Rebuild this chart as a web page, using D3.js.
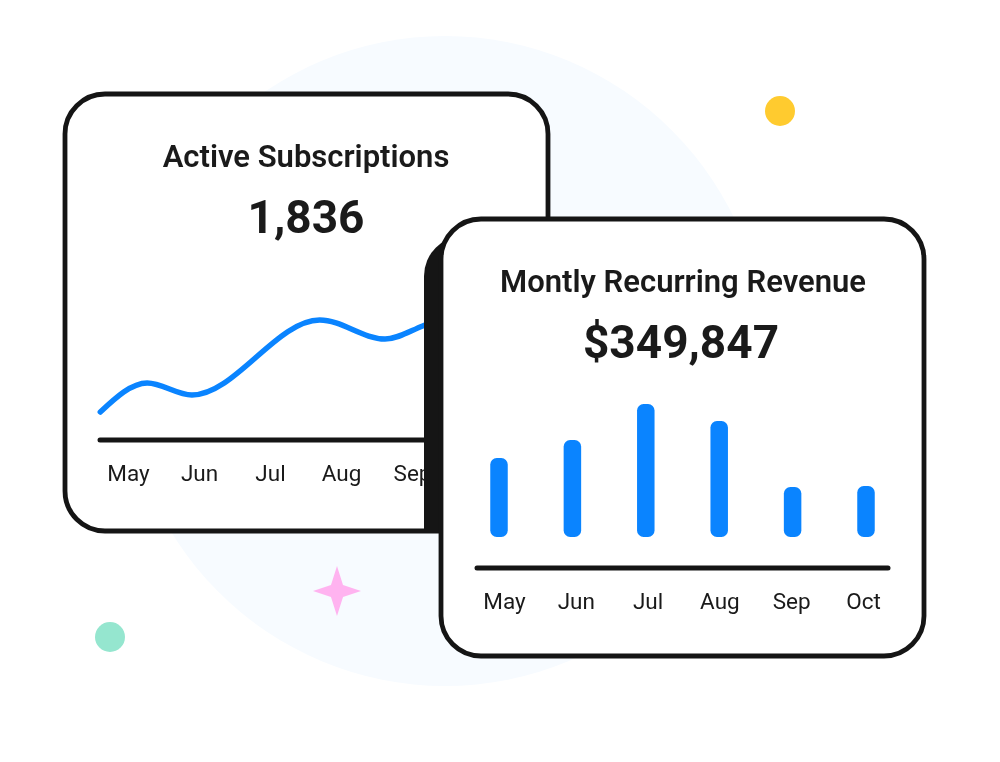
<!DOCTYPE html>
<html>
<head>
<meta charset="utf-8">
<script src="https://cdn.jsdelivr.net/npm/d3@7"></script>
<style>
  html, body { margin: 0; padding: 0; background: #fff; }
  svg { display: block; filter: blur(0.5px); }
  text { font-family: Roboto, sans-serif; fill: #1a1a1a; }
</style>
</head>
<body>
<script>
var width = 1000;
var height = 762;

var months = ['May', 'Jun', 'Jul', 'Aug', 'Sep', 'Oct'];

// line chart: position in months from May, height above the axis
var lineMonths = [-0.39, 0.27, 0.90, 2.70, 3.62, 4.15, 4.80];
var lineValues = [28, 57, 45, 120, 101, 114, 135];

// bar chart, height of each bar
var barValues = [79, 97, 133, 116, 50, 51];

var ink = '#151515';
var blue = '#0a84ff';

var svg = d3.select('body').append('svg')
  .attr('width', width)
  .attr('height', height);

// background blob
svg.append('ellipse')
  .attr('cx', 445).attr('cy', 361)
  .attr('rx', 322).attr('ry', 325)
  .attr('fill', '#f7fbff');

// small decorations
svg.append('circle').attr('cx', 780).attr('cy', 111).attr('r', 15).attr('fill', '#ffcb2f');
svg.append('circle').attr('cx', 110).attr('cy', 637).attr('r', 15).attr('fill', '#95e6cf');

var starRadii = [25, 8.5, 24, 8.5, 25, 8.5, 24, 8.5];
var star = d3.lineRadial()
  .angle(function (d, i) { return i * Math.PI / 4; })
  .radius(function (d) { return d; })
  .curve(d3.curveLinearClosed);
svg.append('path')
  .attr('transform', 'translate(337,591)')
  .attr('d', star(starRadii))
  .attr('fill', '#ffb3f0');

function card(x, y, w, h) {
  return svg.append('rect')
    .attr('x', x).attr('y', y)
    .attr('width', w).attr('height', h)
    .attr('rx', 40)
    .attr('fill', '#fff')
    .attr('stroke', ink)
    .attr('stroke-width', 4.8);
}

function monthAxis(g, scale, y, x0, x1) {
  g.append('line')
    .attr('x1', x0).attr('x2', x1)
    .attr('y1', y).attr('y2', y)
    .attr('stroke', ink)
    .attr('stroke-width', 5)
    .attr('stroke-linecap', 'round');
  var axis = g.append('g')
    .attr('transform', 'translate(0,' + y + ')')
    .call(d3.axisBottom(scale).tickSize(0).tickPadding(25));
  axis.select('.domain').remove();
  axis.selectAll('text')
    .attr('font-size', 22.5)
    .attr('font-weight', 450)
    .style('font-family', 'Roboto, sans-serif')
    .style('fill', '#1a1a1a');
}

function title(x, y, label) {
  svg.append('text').attr('x', x).attr('y', y)
    .attr('text-anchor', 'middle')
    .attr('font-size', 31).attr('font-weight', 600)
    .text(label);
}

function bigNumber(x, y, label) {
  svg.append('text').attr('x', x).attr('y', y)
    .attr('text-anchor', 'middle')
    .attr('font-size', 46).attr('font-weight', 700)
    .text(label);
}

// left card
card(65, 94, 483, 437);
title(306, 167, 'Active Subscriptions');
bigNumber(306, 233, '1,836');

var xLine = d3.scaleLinear().domain([0, 5]).range([128, 483]);
var yLine = d3.scaleLinear().domain([0, 140]).range([440, 300]);
var xLineLabels = d3.scalePoint().domain(months).range([128, 483]);

var line = d3.line()
  .x(function (d, i) { return xLine(lineMonths[i]); })
  .y(function (d) { return yLine(d); })
  .curve(d3.curveMonotoneX);

svg.append('path')
  .attr('d', line(lineValues))
  .attr('fill', 'none')
  .attr('stroke', blue)
  .attr('stroke-width', 5.5)
  .attr('stroke-linecap', 'round');

monthAxis(svg.append('g'), xLineLabels, 440, 100, 460);

// dark edge of the right card falling on the left card
svg.append('clipPath').attr('id', 'left-card')
  .append('rect')
  .attr('x', 65).attr('y', 94)
  .attr('width', 485).attr('height', 439);
svg.append('rect')
  .attr('clip-path', 'url(#left-card)')
  .attr('x', 424).attr('y', 236)
  .attr('width', 300).attr('height', 437)
  .attr('rx', 40)
  .attr('fill', ink);

// right card
card(441, 219, 483, 437);
title(683, 292, 'Montly Recurring Revenue');
bigNumber(681, 358, '$349,847');

var xBar = d3.scalePoint().domain(months).range([499, 866]);
var xBarLabels = d3.scalePoint().domain(months).range([504, 863]);
var yBar = d3.scaleLinear().domain([0, 140]).range([537, 397]);
var barWidth = 17.5;

svg.selectAll('.bar')
  .data(barValues)
  .enter()
  .append('rect')
  .classed('bar', true)
  .attr('x', function (d, i) { return xBar(months[i]) - barWidth / 2; })
  .attr('y', function (d) { return yBar(d); })
  .attr('width', barWidth)
  .attr('height', function (d) { return yBar(0) - yBar(d); })
  .attr('rx', 6.5)
  .attr('fill', blue);

monthAxis(svg.append('g'), xBarLabels, 568, 477, 888);
</script>
</body>
</html>
